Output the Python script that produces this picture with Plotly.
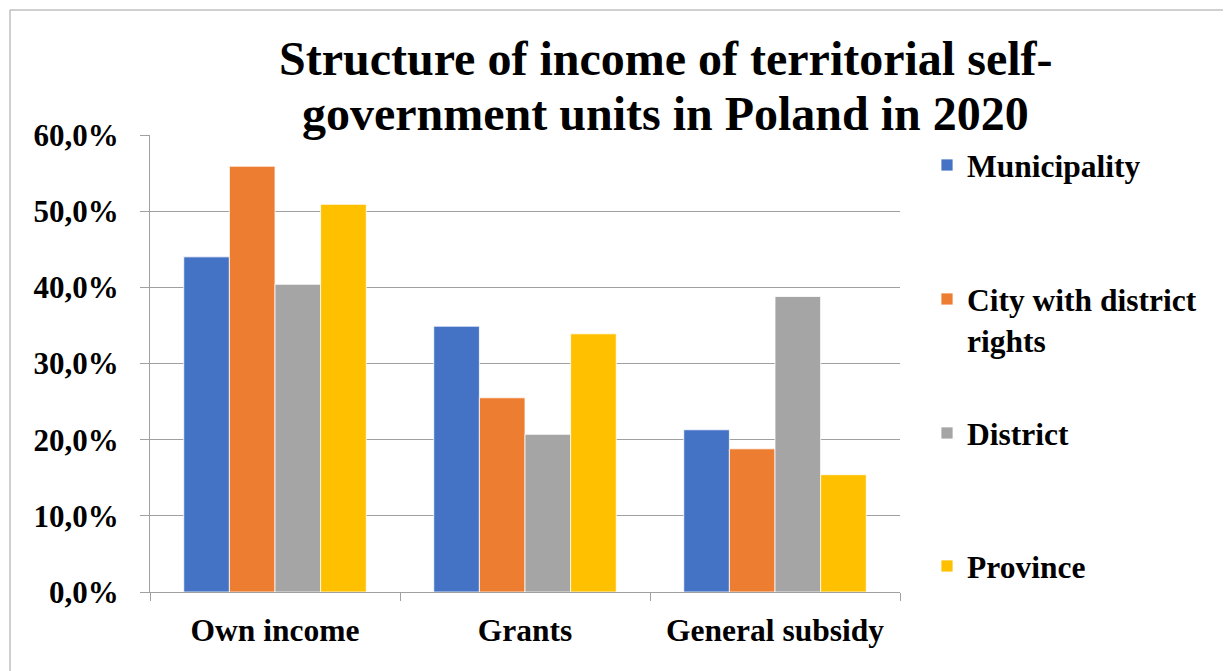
import plotly.graph_objects as go

categories = ["Own income", "Grants", "General subsidy"]
series_names = ["Municipality", "City with district<br>rights", "District", "Province"]
municipality = [0.440, 0.349, 0.213]
city = [0.559, 0.255, 0.188]
district = [0.404, 0.207, 0.388]
province = [0.509, 0.339, 0.154]
y_ticks = [0.0, 0.1, 0.2, 0.3, 0.4, 0.5, 0.6]
title_lines = ["Structure of income of territorial self-", "government units in Poland in 2020"]

values = [municipality, city, district, province]
colors = ["#4472C4", "#ED7D31", "#A5A5A5", "#FFC000"]
legends = ["legend", "legend2", "legend3", "legend4"]

FONT = "'Liberation Serif', 'Times New Roman', serif"
OFF = 8  # page body margin offset

# figure is drawn offset by the page margin, so work in reference pixels minus OFF
W, H = 1231 - OFF, 671 - OFF
L, R, T, B = 150 - OFF, 900 - OFF, 135 - OFF, 592 - OFF
pw, ph = R - L, B - T


def px(x):
    return (x - OFF - L) / pw


def py(y):
    return (B - (y - OFF)) / ph


fig = go.Figure()
for name, vals, col, lg in zip(series_names, values, colors, legends):
    fig.add_trace(go.Bar(
        x=categories, y=vals, name=name, legend=lg,
        marker=dict(color=col, line=dict(color="white", width=0.8)),
    ))

legend_font = dict(family=FONT, size=31.5, color="black", weight="bold")
leg_common = dict(
    font=legend_font, bgcolor="rgba(0,0,0,0)", xanchor="left",
    x=px(927), valign="top", itemclick=False,
)
fig.update_layout(
    legend=dict(**leg_common, yanchor="middle", y=py(165)),
    legend2=dict(**leg_common, yanchor="top", y=py(272)),
    legend3=dict(**leg_common, yanchor="middle", y=py(433)),
    legend4=dict(**leg_common, yanchor="middle", y=py(566)),
)

fig.update_layout(
    width=W, height=H,
    margin=dict(l=L, r=W - R, t=T, b=H - B, autoexpand=False),
    paper_bgcolor="white", plot_bgcolor="white",
    separators=",.",
    barmode="group", bargap=0.27, bargroupgap=0,
    font=dict(family=FONT, color="black"),
    showlegend=True,
)

title_font = dict(family=FONT, size=48, color="black", weight="bold")
for line, yc in zip(title_lines, [58, 113]):
    fig.add_annotation(
        text=line, xref="paper", yref="paper", x=px(665), y=py(yc),
        xanchor="center", yanchor="middle", showarrow=False, font=title_font,
    )

fig.update_xaxes(
    showline=True, linecolor="#a0a0a0", linewidth=1,
    ticks="outside", tickson="boundaries", ticklen=8, tickcolor="#a0a0a0",
    tickfont=dict(family=FONT, size=31.5, color="black", weight="bold"),
    ticklabelstandoff=10,
    showgrid=False,
)
fig.update_yaxes(
    range=[0, 0.6], tickvals=y_ticks, tickformat=".1%",
    showline=True, linecolor="#a0a0a0", linewidth=1,
    ticks="outside", ticklen=9, tickcolor="#a0a0a0",
    showgrid=True, gridcolor="#a0a0a0", gridwidth=1,
    tickfont=dict(family=FONT, size=31, color="black", weight="bold"),
    ticklabelstandoff=15,
    zeroline=False,
)

# chart area border
fig.add_shape(
    type="rect", xref="paper", yref="paper",
    x0=px(10), x1=px(1300), y0=py(700), y1=py(10),
    line=dict(color="#a0a0a0", width=1), fillcolor="rgba(0,0,0,0)", layer="below",
)

fig.write_html("out.html")
